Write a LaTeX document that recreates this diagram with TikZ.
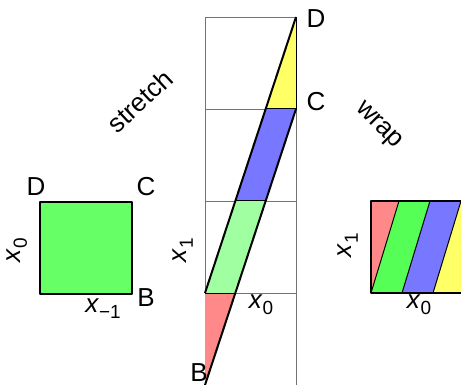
\documentclass[tikz,border=0pt]{standalone}
\usepackage{fontspec}
\setmainfont{Liberation Sans}
\newcommand\xsub[1]{\textit{x}\raisebox{-0.45ex}{\fontsize{19}{19}\selectfont #1}}
\definecolor{sqgreen}{HTML}{66FF66}
\definecolor{palegreen}{HTML}{A0FFA0}
\definecolor{brgreen}{HTML}{55FF55}
\definecolor{pred}{HTML}{FF8888}
\definecolor{pblue}{HTML}{7777FF}
\definecolor{pyellow}{HTML}{FFFF66}
\tikzset{
  lbl/.style={inner sep=0pt, font=\fontsize{26}{30}\selectfont},
  thickline/.style={line width=2pt, line join=round},
  gridline/.style={draw=black!55, line width=0.9pt},
  piece/.style={draw=black, line width=1pt, line join=round},
}
\begin{document}
\begin{tikzpicture}[x=1pt,y=-1pt]
\useasboundingbox (0,0) rectangle (461,385);
% left square
\coordinate (sA) at (40,294);
\coordinate (sB) at (132,294);
\coordinate (sC) at (132,202);
\coordinate (sD) at (40,202);
\fill[sqgreen] (sA) -- (sB) -- (sC) -- (sD) -- cycle;
\draw[thickline] (sA) -- (sB) -- (sC) -- (sD) -- cycle;
\node[lbl] (lD) at (36,187) {D};
\node[lbl] (lC) at (146,187) {C};
\node[lbl] (lB) at (146,298) {B};
\node[lbl, rotate=90] (lx0) at (17,250) {\xsub{0}};
\node[lbl] (lxm) at (103,309) {\xsub{−1}};
% middle column
\foreach \y in {17,109,201,293} {
  \draw[gridline] (205,\y) rectangle (296,\y+92);
}
\coordinate (mB) at (205,385);
\coordinate (mA) at (205,293);
\coordinate (mC) at (296,109);
\coordinate (mD) at (296,17);
\coordinate (m1) at (235,293);
\coordinate (m2) at (235.5,201);
\coordinate (m3) at (265.5,201);
\coordinate (m4) at (265.5,109);
\fill[pred] (mA) -- (m1) -- (mB) -- cycle;
\fill[palegreen] (mA) -- (m1) -- (m3) -- (m2) -- cycle;
\fill[pblue] (m2) -- (m3) -- (mC) -- (m4) -- cycle;
\fill[pyellow] (m4) -- (mC) -- (mD) -- cycle;
\draw[piece] (mA) -- (m1) (m2) -- (m3) (m4) -- (mC);
\draw[line width=1pt] (mC) -- (mD);
\draw[thickline] (mB) -- (mC) (mA) -- (mD);
\node[lbl] (mlD) at (316,19) {D};
\node[lbl] (mlC) at (316,102) {C};
\node[lbl] (mlB) at (199,373) {B};
\node[lbl, rotate=90] (mx1) at (183,250) {\xsub{1}};
\node[lbl] (mx0) at (261,305) {\xsub{0}};
\node[lbl, rotate=43] (stretch) at (140,101) {stretch};
\node[lbl, rotate=-45] (wrap) at (378,126) {wrap};
% right rectangle
\begin{scope}
\clip (371,201) rectangle (463,293);
\fill[pred] (371,201) -- (399,201) -- (371,293) -- cycle;
\fill[brgreen] (371,293) -- (399,201) -- (430,201) -- (402,293) -- cycle;
\fill[pblue] (402,293) -- (430,201) -- (461,201) -- (433,293) -- cycle;
\fill[pyellow] (433,293) -- (461,201) -- (492,201) -- (464,293) -- cycle;
\draw[line width=1pt] (371,293) -- (399,201) (402,293) -- (430,201) (433,293) -- (461,201);
\end{scope}
\draw[thickline] (371,201) rectangle (463,293);
\node[lbl, rotate=90] (rx1) at (348,245) {\xsub{1}};
\node[lbl] (rx0) at (419,305) {\xsub{0}};
\end{tikzpicture}
\end{document}
